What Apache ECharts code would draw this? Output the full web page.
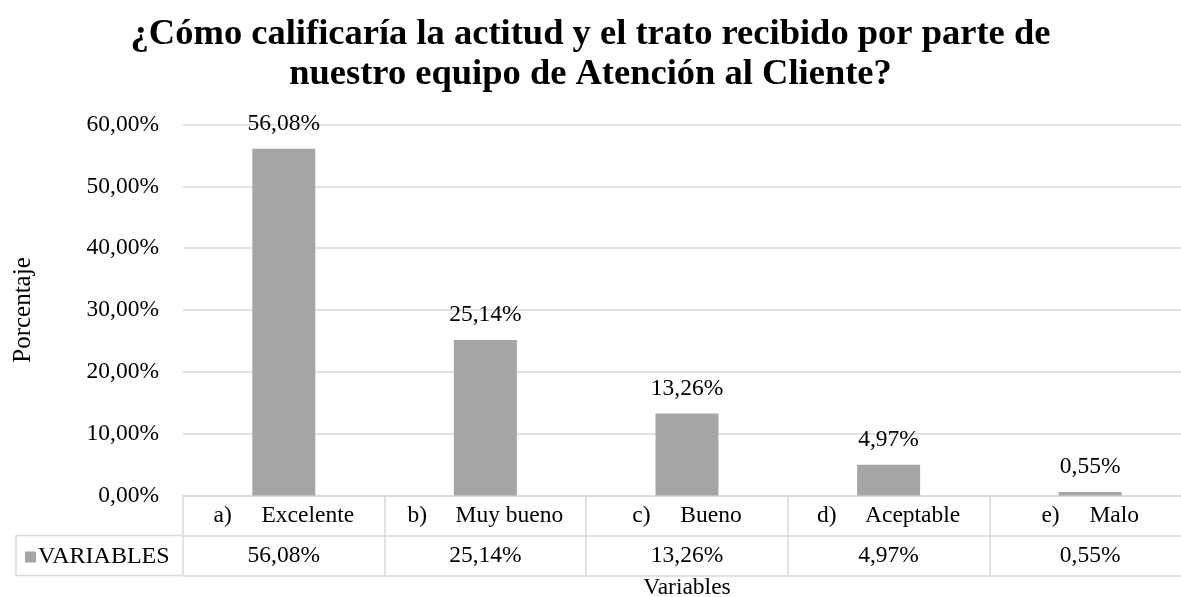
<!DOCTYPE html>
<html>
<head>
<meta charset="utf-8">
<title>Atención al Cliente</title>
<script src="https://cdn.jsdelivr.net/npm/echarts@6/dist/echarts.min.js"></script>
<style>
  html, body { margin: 0; padding: 0; background: #fff; }
  #chart { width: 1181px; height: 597px; }
</style>
</head>
<body>
<div id="chart"></div>
<script>
const CATEGORY_KEYS = ['a)', 'b)', 'c)', 'd)', 'e)'];
const CATEGORY_NAMES = ['Excelente', 'Muy bueno', 'Bueno', 'Aceptable', 'Malo'];
const VALUES = [56.08, 25.14, 13.26, 4.97, 0.55];
const SERIES_NAME = 'VARIABLES';
const Y_MIN = 0;
const Y_MAX = 60;
const Y_STEP = 10;

(function () {
  const FONT = '"Liberation Serif", "Times New Roman", serif';
  const LINE = '#d9d9d9';
  const BAR = '#a5a5a5';
  const TEXT = '#000';
  const FS = 23.5;

  const GRID_LEFT = 183;
  const GRID_TOP = 124.5;
  const GRID_BOTTOM = 101.5;
  const GRID_WIDTH = 1008;
  const ROW_H = 40;
  const TABLE_TOP = 597 - GRID_BOTTOM;
  const TABLE_LEFT = 16;

  function pct(v) {
    return v.toFixed(2).replace('.', ',') + '%';
  }

  const chart = echarts.init(document.getElementById('chart'), null, { renderer: 'canvas' });

  const lineStyle = { color: LINE, width: 1.5 };

  const option = {
    animation: false,
    backgroundColor: '#fff',
    textStyle: { fontFamily: FONT, color: TEXT },
    title: {
      text: '¿Cómo calificaría la actitud y el trato recibido por parte de\nnuestro equipo de Atención al Cliente?',
      left: 'center',
      top: 15,
      padding: 0,
      textStyle: { fontFamily: FONT, fontSize: 36.5, fontWeight: 'bold', lineHeight: 40, color: TEXT },
    },
    legend: {
      data: [SERIES_NAME],
      left: 25,
      top: 545,
      padding: 0,
      icon: 'rect',
      itemWidth: 11,
      itemHeight: 11,
      itemGap: 0,
      textStyle: { fontFamily: FONT, fontSize: 24, color: TEXT, padding: [0, 0, 0, -3] },
    },
    grid: {
      left: GRID_LEFT,
      width: GRID_WIDTH,
      top: GRID_TOP,
      bottom: GRID_BOTTOM,
      containLabel: false,
      outerBoundsMode: 'none',
    },
    xAxis: [
      {
        type: 'category',
        data: CATEGORY_NAMES,
        position: 'bottom',
        axisLine: { show: true, lineStyle },
        axisTick: { show: true, length: ROW_H * 2, lineStyle },
        axisLabel: {
          margin: 9,
          interval: 0,
          formatter: (v, i) => '{k|' + CATEGORY_KEYS[i] + '}{n|' + v + '}',
          rich: {
            k: { width: 48, align: 'left', fontFamily: FONT, fontSize: FS, color: TEXT, lineHeight: 22 },
            n: { fontFamily: FONT, fontSize: FS, color: TEXT, lineHeight: 22 },
          },
        },
      },
      {
        type: 'category',
        data: CATEGORY_NAMES,
        position: 'bottom',
        offset: ROW_H,
        axisLine: { show: true, lineStyle },
        axisTick: { show: false },
        axisLabel: {
          margin: 9,
          interval: 0,
          fontFamily: FONT,
          fontSize: FS,
          lineHeight: 22,
          color: TEXT,
          formatter: (v, i) => pct(VALUES[i]),
        },
      },
      {
        type: 'category',
        data: CATEGORY_NAMES,
        position: 'bottom',
        offset: ROW_H * 2,
        axisLine: { show: true, lineStyle },
        axisTick: { show: false },
        axisLabel: { show: false },
        name: 'Variables',
        nameLocation: 'middle',
        nameGap: 1,
        nameTextStyle: { fontFamily: FONT, fontSize: FS, color: TEXT, lineHeight: 22, verticalAlign: 'top' },
      },
    ],
    yAxis: {
      type: 'value',
      min: Y_MIN,
      max: Y_MAX,
      interval: Y_STEP,
      name: 'Porcentaje',
      nameLocation: 'middle',
      nameRotate: 90,
      nameGap: 147,
      nameTextStyle: { fontFamily: FONT, fontSize: 25, color: TEXT },
      axisLine: { show: false },
      axisTick: { show: false },
      splitLine: { show: true, lineStyle },
      axisLabel: {
        margin: 24,
        fontFamily: FONT,
        fontSize: FS,
        color: TEXT,
        formatter: (v) => pct(v),
      },
    },
    series: [
      {
        name: SERIES_NAME,
        type: 'bar',
        xAxisIndex: 0,
        data: VALUES,
        barWidth: 63,
        itemStyle: { color: BAR },
        label: {
          show: true,
          position: 'top',
          distance: 13,
          fontFamily: FONT,
          fontSize: FS,
          color: TEXT,
          formatter: (p) => pct(p.value),
        },
      },
    ],
    graphic: [
      // legend cell of the data table, left of the plot
      {
        type: 'polyline',
        shape: {
          points: [
            [GRID_LEFT, TABLE_TOP + ROW_H],
            [TABLE_LEFT, TABLE_TOP + ROW_H],
            [TABLE_LEFT, TABLE_TOP + ROW_H * 2],
            [GRID_LEFT, TABLE_TOP + ROW_H * 2],
          ],
        },
        style: { stroke: LINE, lineWidth: 1.5, fill: null },
      },
    ],
  };

  chart.setOption(option);
})();
</script>
</body>
</html>
